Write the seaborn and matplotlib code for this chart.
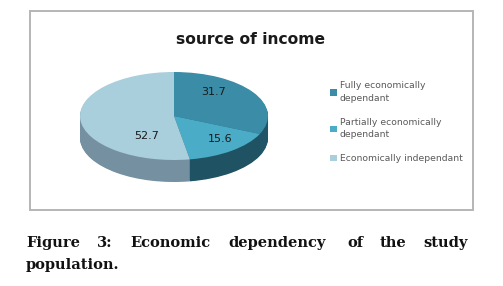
import numpy as np
import matplotlib
matplotlib.use('Agg')
import matplotlib.pyplot as plt
import seaborn as sns
from matplotlib.patches import Rectangle

sns.set_theme(style='white')
plt.rcParams['font.family'] = ['DejaVu Sans']

# data
categories = ['Fully economically\ndependant',
              'Partially economically\ndependant',
              'Economically independant']
values = [31.7, 15.6, 52.7]

top_colors = ['#3b8ca6', '#4aacc6', '#a9cedc']
side_colors = ['#1f5566', '#1f5363', '#7590a0']

W, H = 503, 286
fig = plt.figure(figsize=(W / 100, H / 100), dpi=100)

# chart frame
frame = Rectangle((30 / W, 1 - 210 / H), 443 / W, 199 / H, transform=fig.transFigure,
                  fill=False, edgecolor='#b5b5b5', linewidth=1.4)
fig.patches.append(frame)

fig.text(251 / W, 1 - 40 / H, 'source of income', ha='center', va='center',
         fontsize=11.2, fontweight='bold', color='#1a1a1a')

# pie axes: top face 188x88 px, depth 22 px
depth = 0.5
ax = fig.add_axes([80 / W, 1 - 182 / H, 188 / W, 110 / H])
for d in np.linspace(depth, 0.02, 30):
    ax.pie(values, colors=side_colors, startangle=90, counterclock=False,
           center=(0, -d), wedgeprops=dict(linewidth=0))
wedges, _, autotexts = ax.pie(values, colors=top_colors, startangle=90, counterclock=False,
                              autopct='%.1f', pctdistance=0.66,
                              wedgeprops=dict(linewidth=0),
                              textprops=dict(fontsize=8, color='#1a1a1a'))
ax.set_aspect('auto')
ax.set_xlim(-1, 1)
ax.set_ylim(-1 - depth, 1)
ax.axis('off')

# excel-style label spots
label_pos = [(0.42, 0.55), (0.49, -0.52), (-0.29, -0.45)]
for t, p in zip(autotexts, label_pos):
    t.set_position(p)

# legend
leg = fig.legend(wedges, categories, loc='upper left',
                 bbox_to_anchor=(322 / W, 1 - 73 / H), frameon=False,
                 fontsize=6.7, handlelength=0.7, handleheight=0.7,
                 handletextpad=0.3, labelspacing=1.6, labelcolor='#595959')
for t in leg.get_texts():
    t.set_linespacing(1.5)

# caption, justified first line
words = ['Figure', '3:', 'Economic', 'dependency', 'of', 'the', 'study']
word_x = [26, 97, 130, 228, 347, 380, 423]
for w, x in zip(words, word_x):
    fig.text(x / W, 1 - 243 / H, w, ha='left', va='center', family='DejaVu Serif',
             fontweight='bold', fontsize=10.5, color='#111111')
fig.text(26 / W, 1 - 265 / H, 'population.', ha='left', va='center', family='DejaVu Serif',
         fontweight='bold', fontsize=10.5, color='#111111')

fig.savefig('out.png', dpi=100)
